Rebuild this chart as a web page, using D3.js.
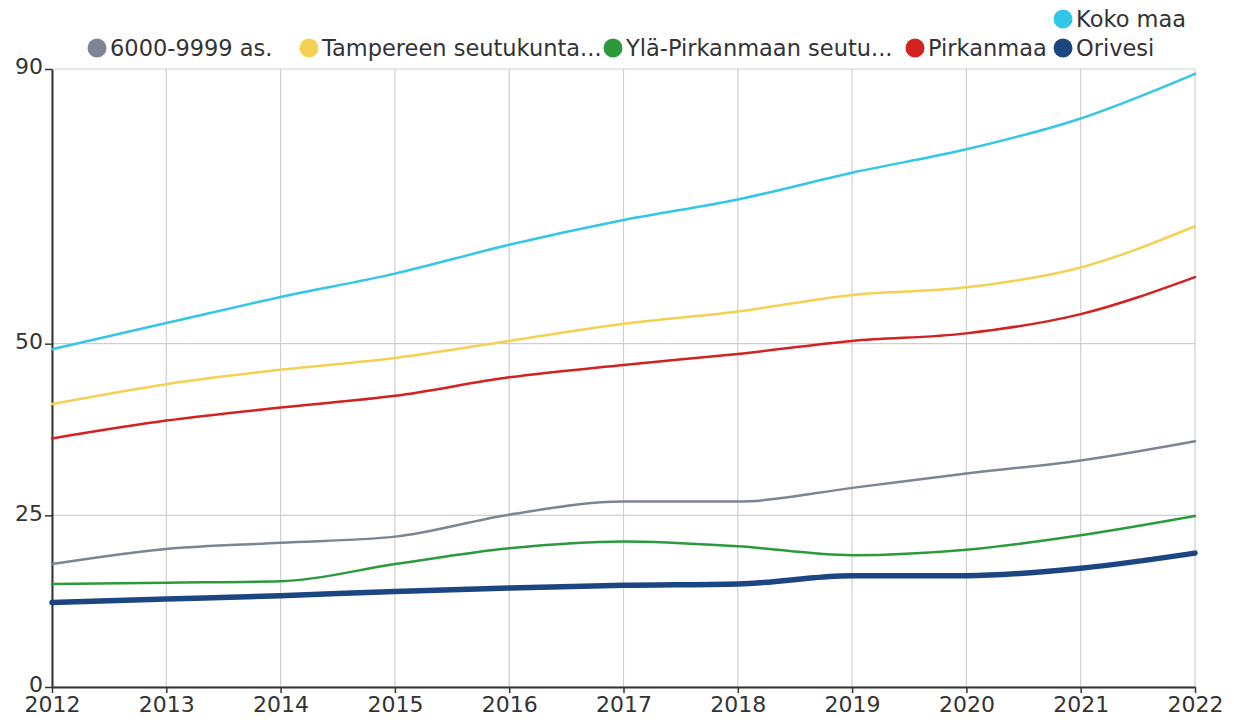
<!DOCTYPE html>
<html>
<head>
<meta charset="utf-8">
<script src="https://cdn.jsdelivr.net/npm/d3@7"></script>
<style>
  html, body { margin: 0; padding: 0; background: #fff; }
  svg { display: block; font-family: "DejaVu Sans", sans-serif; }
</style>
</head>
<body>
<svg id="chart" width="1234" height="722"></svg>
<script>
const years = [2012, 2013, 2014, 2015, 2016, 2017, 2018, 2019, 2020, 2021, 2022];
const yTicks = [0, 25, 50, 90];

const kokoMaa      = [49.2, 53.0, 56.8, 60.2, 64.4, 68.0, 71.0, 74.9, 78.3, 82.8, 89.3];
const tampereen    = [41.2, 44.1, 46.2, 47.9, 50.4, 52.9, 54.7, 57.1, 58.2, 61.1, 67.1];
const pirkanmaa    = [36.2, 38.8, 40.7, 42.4, 45.1, 46.9, 48.5, 50.4, 51.5, 54.3, 59.7];
const kuntaryhma   = [17.9, 20.1, 21.0, 21.9, 25.1, 27.0, 27.0, 29.0, 31.1, 33.0, 35.8];
const ylaPirkanmaa = [15.0, 15.2, 15.4, 17.9, 20.2, 21.2, 20.5, 19.2, 20.0, 22.1, 24.9];
const orivesi      = [12.3, 12.8, 13.3, 13.9, 14.4, 14.8, 15.0, 16.2, 16.2, 17.3, 19.5];

const seriesNames = ["6000-9999 as.", "Tampereen seutukunta...", "Ylä-Pirkanmaan seutu...", "Pirkanmaa", "Orivesi", "Koko maa"];
const seriesValues = [kuntaryhma, tampereen, ylaPirkanmaa, pirkanmaa, orivesi, kokoMaa];
const seriesColors = ["#7c8594", "#f4d152", "#2a9a3c", "#d2211f", "#1c4682", "#33c7e6"];
const seriesWidths = [2.5, 2.5, 2.5, 2.5, 5.5, 2.5];

// legend layout (circle centres)
const legendPos = [[97, 48], [309, 48], [613, 48], [915, 48], [1063, 48], [1063, 19]];

const svg = d3.select("#chart");
const margin = { left: 52, right: 39, top: 69, bottom: 35 };
const W = 1234, H = 722;

const x = d3.scaleLinear().domain([2012, 2022]).range([margin.left, W - margin.right]);
const y = d3.scaleLinear().domain([0, 90]).range([H - margin.bottom, margin.top]);

// gridlines
const grid = svg.append("g");
grid.selectAll("line.v").data(years).join("line")
  .attr("x1", d => x(d)).attr("x2", d => x(d))
  .attr("y1", y(0)).attr("y2", y(90))
  .attr("stroke", "#cfcfcf").attr("stroke-width", 1.2);
grid.selectAll("line.h").data(yTicks).join("line")
  .attr("x1", x(2012)).attr("x2", x(2022))
  .attr("y1", d => y(d)).attr("y2", d => y(d))
  .attr("stroke", "#cfcfcf").attr("stroke-width", 1.2);

// axes
const xAxis = svg.append("g").attr("transform", `translate(0,${y(0)})`)
  .call(d3.axisBottom(x).tickValues(years).tickFormat(d3.format("d")).tickSize(6).tickSizeOuter(0).tickPadding(3));
const yAxis = svg.append("g").attr("transform", `translate(${x(2012)},0)`)
  .call(d3.axisLeft(y).tickValues(yTicks).tickSize(7).tickSizeOuter(0).tickPadding(2));
[xAxis, yAxis].forEach(a => {
  a.select(".domain").attr("stroke", "#333").attr("stroke-width", 2);
  a.selectAll(".tick line").attr("stroke", "#333").attr("stroke-width", 1.5);
  a.selectAll(".tick text").attr("fill", "#333").style("font-size", "22px").style("font-family", "DejaVu Sans, sans-serif");
});
yAxis.selectAll(".tick text").attr("dy", "0.22em");

// lines
const line = d3.line().x((d, i) => x(years[i])).y(d => y(d)).curve(d3.curveMonotoneX);
const drawOrder = [5, 1, 3, 0, 2, 4];
svg.append("g").selectAll("path").data(drawOrder).join("path")
  .attr("d", i => line(seriesValues[i]))
  .attr("fill", "none")
  .attr("stroke", i => seriesColors[i])
  .attr("stroke-width", i => seriesWidths[i])
  .attr("stroke-linejoin", "round").attr("stroke-linecap", "round");

// legend
const lg = svg.append("g").selectAll("g").data(seriesNames).join("g")
  .attr("transform", (d, i) => `translate(${legendPos[i][0]},${legendPos[i][1]})`);
lg.append("circle").attr("r", 9.5).attr("fill", (d, i) => seriesColors[i]);
lg.append("text").attr("x", 13).attr("dy", "0.36em")
  .attr("fill", "#333").style("font-size", "22.5px").text(d => d);
</script>
</body>
</html>
